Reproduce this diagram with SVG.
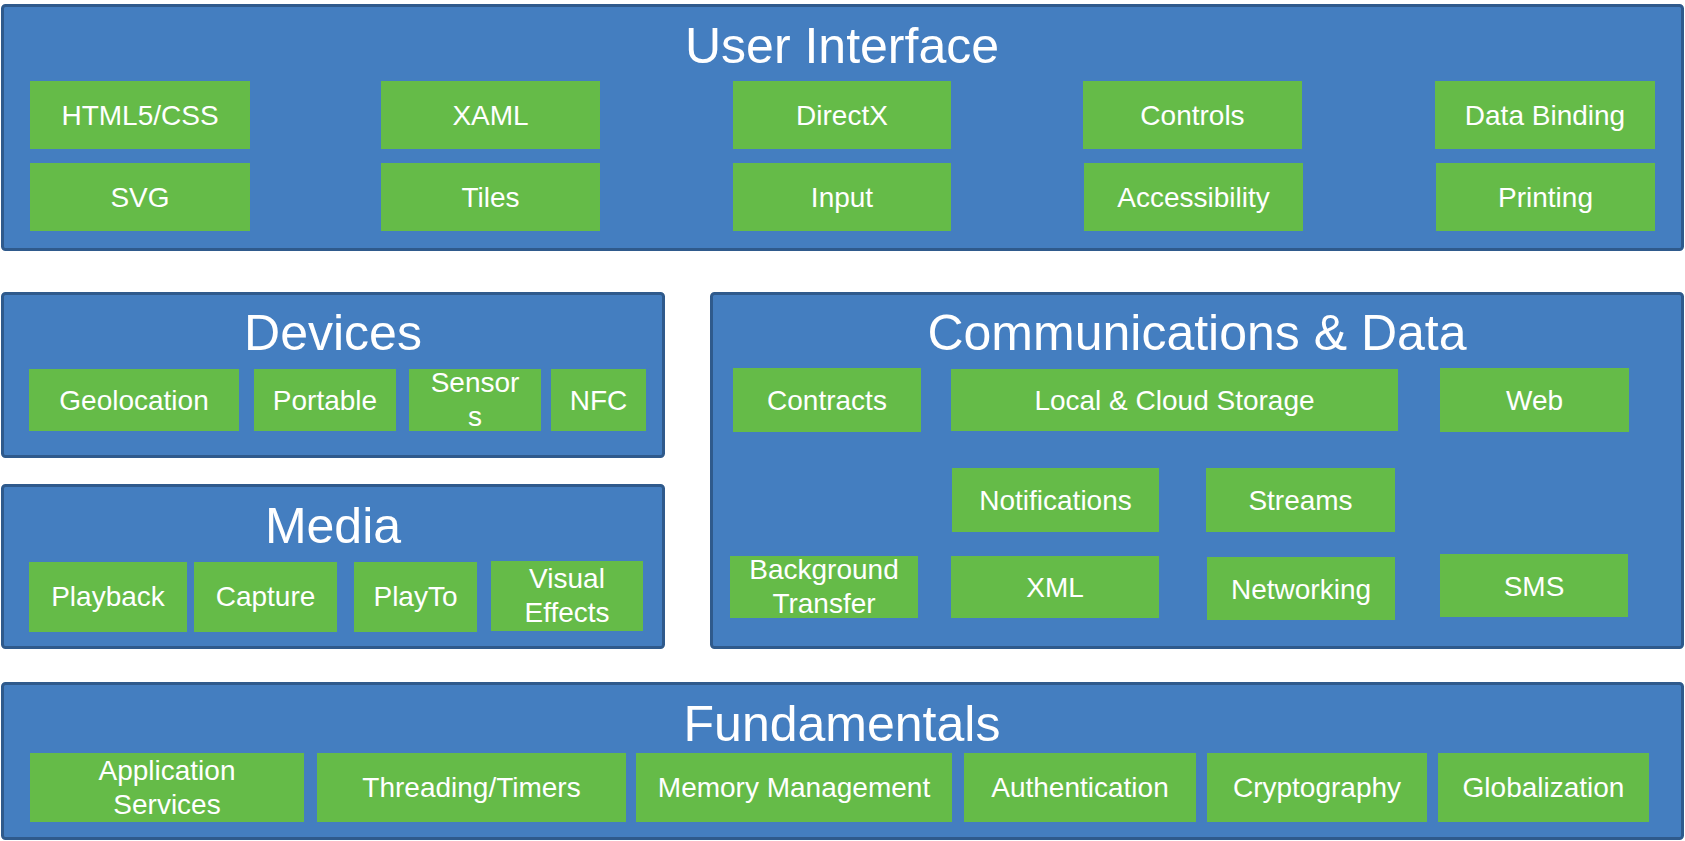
<svg xmlns="http://www.w3.org/2000/svg" width="1685" height="841" viewBox="0 0 1685 841">
<style>
.panel{fill:#447EC0;stroke:#2F5A8C;stroke-width:3}
.box{fill:#65BB48}
.title{font-family:"Liberation Sans",Arial,sans-serif;font-size:50px;fill:#FFFFFF;text-anchor:middle}
.lbl{font-family:"Liberation Sans",Arial,sans-serif;font-size:28px;fill:#FFFFFF;text-anchor:middle}
</style>
<rect width="1685" height="841" fill="#FFFFFF"/>
<g id="user-interface">
<rect class="panel" x="2.5" y="5.5" width="1680" height="244" rx="3"/>
<text class="title" x="842" y="63">User Interface</text>
<g id="html5css"><rect class="box" x="30" y="81" width="220" height="68"/><text class="lbl" x="140" y="125">HTML5/CSS</text></g>
<g id="svg"><rect class="box" x="30" y="163" width="220" height="68"/><text class="lbl" x="140" y="207">SVG</text></g>
<g id="xaml"><rect class="box" x="381" y="81" width="219" height="68"/><text class="lbl" x="490.5" y="125">XAML</text></g>
<g id="tiles"><rect class="box" x="381" y="163" width="219" height="68"/><text class="lbl" x="490.5" y="207">Tiles</text></g>
<g id="directx"><rect class="box" x="733" y="81" width="218" height="68"/><text class="lbl" x="842" y="125">DirectX</text></g>
<g id="input"><rect class="box" x="733" y="163" width="218" height="68"/><text class="lbl" x="842" y="207">Input</text></g>
<g id="controls"><rect class="box" x="1083" y="81" width="219" height="68"/><text class="lbl" x="1192.5" y="125">Controls</text></g>
<g id="accessibility"><rect class="box" x="1084" y="163" width="219" height="68"/><text class="lbl" x="1193.5" y="207">Accessibility</text></g>
<g id="databinding"><rect class="box" x="1435" y="81" width="220" height="68"/><text class="lbl" x="1545" y="125">Data Binding</text></g>
<g id="printing"><rect class="box" x="1436" y="163" width="219" height="68"/><text class="lbl" x="1545.5" y="207">Printing</text></g>
</g>
<g id="devices">
<rect class="panel" x="2.5" y="293.5" width="661" height="163" rx="3"/>
<text class="title" x="333" y="350">Devices</text>
<g id="geolocation"><rect class="box" x="29" y="369" width="210" height="62"/><text class="lbl" x="134" y="410">Geolocation</text></g>
<g id="portable"><rect class="box" x="254" y="369" width="142" height="62"/><text class="lbl" x="325" y="410">Portable</text></g>
<g id="sensors"><rect class="box" x="409" y="369" width="132" height="62"/><text class="lbl" x="475" y="392">Sensor</text><text class="lbl" x="475" y="426">s</text></g>
<g id="nfc"><rect class="box" x="551" y="369" width="95" height="62"/><text class="lbl" x="598.5" y="410">NFC</text></g>
</g>
<g id="media">
<rect class="panel" x="2.5" y="485.5" width="661" height="162" rx="3"/>
<text class="title" x="333" y="543">Media</text>
<g id="playback"><rect class="box" x="29" y="562" width="158" height="70"/><text class="lbl" x="108" y="606">Playback</text></g>
<g id="capture"><rect class="box" x="194" y="562" width="143" height="70"/><text class="lbl" x="265.5" y="606">Capture</text></g>
<g id="playto"><rect class="box" x="354" y="562" width="123" height="70"/><text class="lbl" x="415.5" y="606">PlayTo</text></g>
<g id="visualeffects"><rect class="box" x="491" y="561" width="152" height="70"/><text class="lbl" x="567" y="588">Visual</text><text class="lbl" x="567" y="622">Effects</text></g>
</g>
<g id="communications">
<rect class="panel" x="711.5" y="293.5" width="971" height="354" rx="3"/>
<text class="title" x="1197" y="350">Communications &amp; Data</text>
<g id="contracts"><rect class="box" x="733" y="368" width="188" height="64"/><text class="lbl" x="827" y="410">Contracts</text></g>
<g id="storage"><rect class="box" x="951" y="369" width="447" height="62"/><text class="lbl" x="1174.5" y="410">Local &amp; Cloud Storage</text></g>
<g id="web"><rect class="box" x="1440" y="368" width="189" height="64"/><text class="lbl" x="1534.5" y="410">Web</text></g>
<g id="notifications"><rect class="box" x="952" y="468" width="207" height="64"/><text class="lbl" x="1055.5" y="510">Notifications</text></g>
<g id="streams"><rect class="box" x="1206" y="468" width="189" height="64"/><text class="lbl" x="1300.5" y="510">Streams</text></g>
<g id="backgroundtransfer"><rect class="box" x="730" y="556" width="188" height="62"/><text class="lbl" x="824" y="579">Background</text><text class="lbl" x="824" y="613">Transfer</text></g>
<g id="xml"><rect class="box" x="951" y="556" width="208" height="62"/><text class="lbl" x="1055" y="597">XML</text></g>
<g id="networking"><rect class="box" x="1207" y="557" width="188" height="63"/><text class="lbl" x="1301" y="599">Networking</text></g>
<g id="sms"><rect class="box" x="1440" y="554" width="188" height="63"/><text class="lbl" x="1534" y="596">SMS</text></g>
</g>
<g id="fundamentals">
<rect class="panel" x="2.5" y="683.5" width="1680" height="155" rx="3"/>
<text class="title" x="842" y="741">Fundamentals</text>
<g id="appservices"><rect class="box" x="30" y="753" width="274" height="69"/><text class="lbl" x="167" y="780">Application</text><text class="lbl" x="167" y="814">Services</text></g>
<g id="threading"><rect class="box" x="317" y="753" width="309" height="69"/><text class="lbl" x="471.5" y="797">Threading/Timers</text></g>
<g id="memory"><rect class="box" x="636" y="753" width="316" height="69"/><text class="lbl" x="794" y="797">Memory Management</text></g>
<g id="authentication"><rect class="box" x="964" y="753" width="232" height="69"/><text class="lbl" x="1080" y="797">Authentication</text></g>
<g id="cryptography"><rect class="box" x="1207" y="753" width="220" height="69"/><text class="lbl" x="1317" y="797">Cryptography</text></g>
<g id="globalization"><rect class="box" x="1438" y="753" width="211" height="69"/><text class="lbl" x="1543.5" y="797">Globalization</text></g>
</g>
<g id="connectors"/>
</svg>
